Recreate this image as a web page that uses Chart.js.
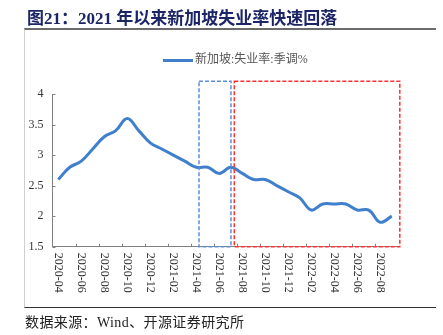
<!DOCTYPE html>
<html>
<head>
<meta charset="utf-8">
<script src="https://cdn.jsdelivr.net/npm/chart.js@4"></script>
<style>
    body { margin: 0; width: 443px; height: 335px; overflow: hidden; background: #fff; position: relative; font-family: "Liberation Serif", "Noto Sans CJK SC", serif; }
    #chart { position: absolute; left: 0; top: 0; }
    #title { position: absolute; left: 27px; top: 4px; font-size: 17px; font-weight: bold; color: #1c2566; white-space: nowrap; }
    #frame { position: absolute; left: 24px; top: 28px; width: 411px; height: 277px; border-top: 2px solid #6b6b6b; border-left: 1px solid #cfcfcf; border-bottom: 1.5px solid #333; }
    #legend { position: absolute; left: 163px; top: 49px; font-size: 12px; color: #555; white-space: nowrap; }
    #legend span.swatch { display: inline-block; width: 30px; height: 3px; background: #3f7fcc; vertical-align: middle; margin-right: 2px; }
    #source { position: absolute; left: 25px; top: 311px; font-size: 14px; letter-spacing: 0.4px; color: #222; white-space: nowrap; }
</style>
</head>
<body>
<canvas id="chart" width="443" height="335"></canvas>
<div id="frame"></div>
<div id="title">图21：2021 年以来新加坡失业率快速回落</div>
<div id="legend"><span class="swatch"></span><span>新加坡:失业率:季调%</span></div>
<div id="source">数据来源：Wind、开源证券研究所</div>
<script>
// Singapore unemployment rate, seasonally adjusted, monthly
const months = [
    '2020-04', '2020-05', '2020-06', '2020-07', '2020-08', '2020-09',
    '2020-10', '2020-11', '2020-12', '2021-01', '2021-02', '2021-03',
    '2021-04', '2021-05', '2021-06', '2021-07', '2021-08', '2021-09',
    '2021-10', '2021-11', '2021-12', '2022-01', '2022-02', '2022-03',
    '2022-04', '2022-05', '2022-06', '2022-07', '2022-08', '2022-09'
];
const unemployment = [
    2.6, 2.8, 2.9, 3.1, 3.3, 3.4,
    3.6, 3.4, 3.2, 3.1, 3.0, 2.9,
    2.8, 2.8, 2.7, 2.8, 2.7, 2.6,
    2.6, 2.5, 2.4, 2.3, 2.1, 2.2,
    2.2, 2.2, 2.1, 2.1, 1.9, 2.0
];
const yTicks = [1.5, 2, 2.5, 3, 3.5, 4];

// highlighted periods: [fromIndex, toIndex, topValue]
const blueBox = [12.24, 15.02, 4.21];
const redBox = [15.31, 29.7, 4.21];

// Draws the inward tick marks, vertical date labels and dashed boxes
const decorPlugin = {
    id: 'decor',
    afterDatasetsDraw(chart) {
        const ctx = chart.ctx;
        const x = chart.scales.x;
        const y = chart.scales.y;
        const bottom = y.getPixelForValue(yTicks[0]);

        ctx.save();
        ctx.strokeStyle = '#808080';
        ctx.lineWidth = 1;
        ctx.beginPath();
        // y ticks pointing into the plot
        yTicks.forEach(v => {
            const py = Math.round(y.getPixelForValue(v)) + 0.5;
            ctx.moveTo(x.left, py);
            ctx.lineTo(x.left + 3, py);
        });
        // x ticks between every second month
        for (let b = 2; b < months.length; b += 2) {
            const px = Math.round(x.getPixelForValue(b - 0.5)) + 0.5;
            ctx.moveTo(px, bottom);
            ctx.lineTo(px, bottom - 3);
        }
        ctx.stroke();

        // dashed boxes
        ctx.lineWidth = 1.5;
        ctx.setLineDash([4, 2]);
        [[blueBox, '#5b8fd8'], [redBox, '#ff3030']].forEach(([box, color]) => {
            const x0 = x.getPixelForValue(box[0]);
            const x1 = x.getPixelForValue(box[1]);
            const top = y.getPixelForValue(box[2]);
            ctx.strokeStyle = color;
            ctx.strokeRect(x0, top, x1 - x0, bottom - top);
        });
        ctx.setLineDash([]);

        // date labels, every second month, reading top to bottom
        ctx.fillStyle = '#333';
        ctx.font = '12px "Liberation Serif"';
        ctx.textAlign = 'left';
        ctx.textBaseline = 'middle';
        months.forEach((label, i) => {
            if (i % 2 !== 0) return;
            ctx.save();
            ctx.translate(x.getPixelForValue(i), bottom + 6);
            ctx.rotate(Math.PI / 2);
            ctx.fillText(label, 0, 0);
            ctx.restore();
        });
        ctx.restore();
    }
};

new Chart(document.getElementById('chart'), {
    type: 'line',
    data: {
        labels: months,
        datasets: [{
            label: '新加坡:失业率:季调%',
            data: unemployment,
            borderColor: '#3f7fcc',
            borderWidth: 3,
            pointRadius: 0,
            tension: 0.4,
            fill: false
        }]
    },
    options: {
        responsive: false,
        animation: false,
        layout: {
            padding: { left: 22.5, right: 45.5, top: 94, bottom: 78.3 }
        },
        plugins: {
            legend: { display: false },
            tooltip: { enabled: false }
        },
        scales: {
            x: {
                offset: true,
                grid: { display: false, drawTicks: false },
                border: { color: '#808080' },
                ticks: { display: false },
                afterFit: scale => { scale.height = 10; }
            },
            y: {
                min: 1.5,
                max: 4,
                grid: { display: false, drawTicks: false },
                border: { color: '#808080' },
                ticks: {
                    stepSize: 0.5,
                    padding: 9,
                    color: '#333',
                    font: { family: 'Liberation Serif', size: 12 },
                    callback: value => String(value)
                },
                afterFit: scale => { scale.width = 30; }
            }
        }
    },
    plugins: [decorPlugin]
});
</script>
</body>
</html>
